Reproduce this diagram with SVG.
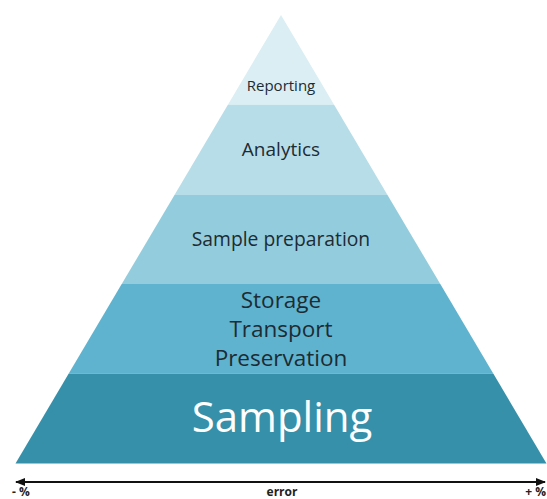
<svg xmlns="http://www.w3.org/2000/svg" width="547" height="499" viewBox="0 0 547 499">
<style>
.lbl{font-family:"Open Sans","Liberation Sans",sans-serif;fill:#1d2b33;text-anchor:middle}
.axis{font-family:"Open Sans","Liberation Sans",sans-serif;font-weight:bold;font-size:12px;fill:#222}
</style>
<defs>
<marker id="ah" viewBox="0 0 10 10" refX="9" refY="5" markerWidth="5" markerHeight="5" orient="auto-start-reverse">
<path d="M0,1 L10,5 L0,9 z" fill="#111"/>
</marker>
</defs>
<rect width="547" height="499" fill="#fff"/>
<g id="reporting">
<polygon points="281,15 334.1,104.7 227.9,104.7" fill="#daeef3"/>
<text class="lbl" x="281" y="91" font-size="15">Reporting</text>
</g>
<g id="analytics">
<polygon points="227.9,104.7 334.1,104.7 387.2,194.4 174.8,194.4" fill="#b7dde8"/>
<text class="lbl" x="281" y="156" font-size="19">Analytics</text>
</g>
<g id="sample-preparation">
<polygon points="174.8,194.4 387.2,194.4 440.3,284.1 121.7,284.1" fill="#93cddd"/>
<text class="lbl" x="281" y="246" font-size="19.3">Sample preparation</text>
</g>
<g id="storage">
<polygon points="121.7,284.1 440.3,284.1 493.4,373.8 68.6,373.8" fill="#5fb3cf"/>
<text class="lbl" x="281" y="308" font-size="22.5">Storage</text>
<text class="lbl" x="281" y="337" font-size="22.5">Transport</text>
<text class="lbl" x="281" y="366" font-size="22.5">Preservation</text>
</g>
<g id="sampling">
<polygon points="68.6,373.8 493.4,373.8 546.5,463.5 15.5,463.5" fill="#3790a9"/>
<text class="lbl" x="282" y="432" font-size="42" style="fill:#fff">Sampling</text>
</g>
<g id="connectors">
<line x1="16" y1="482" x2="545" y2="482" stroke="#111" stroke-width="2" marker-start="url(#ah)" marker-end="url(#ah)"/>
</g>
<text class="axis" x="12" y="496">- %</text>
<text class="axis" x="282" y="496" text-anchor="middle">error</text>
<text class="axis" x="546" y="496" text-anchor="end">+ %</text>
</svg>
